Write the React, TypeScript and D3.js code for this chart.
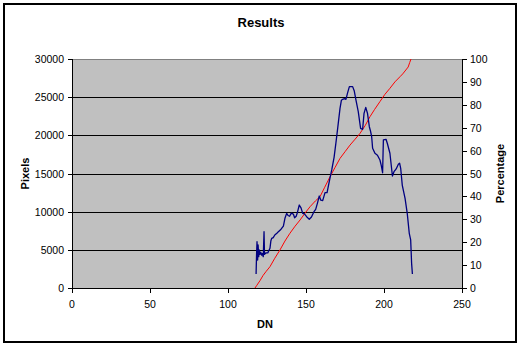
import React from "react";
import * as d3 from "d3";

const titleText = "Results";
const xLabel = "DN";
const yLeftLabel = "Pixels";
const yRightLabel = "Percentage";
const xTicks = [0, 50, 100, 150, 200, 250];
const yLeftTicks = [0, 5000, 10000, 15000, 20000, 25000, 30000];
const yRightTicks = [0, 10, 20, 30, 40, 50, 60, 70, 80, 90, 100];

// Pixel counts per DN (blue)
const pixelDN = [118, 118.3, 118.6, 119, 119.3, 119.7, 120, 120.5, 121, 121.5, 122, 122.6, 123.1, 123.4, 123.8, 124.5, 125.5, 126.9, 127.5, 128, 129, 130, 131.5, 132.3, 134, 135.5, 136.5, 137.6, 138.5, 139.5, 140.5, 141.9, 142.7, 143.7, 144.5, 145.7, 146.8, 147.9, 149, 150.4, 152.1, 153.5, 155.1, 156.2, 157.3, 158.5, 159.5, 160.7, 162.2, 163.5, 164.9, 166.5, 168, 169.2, 170.3, 171.8, 172.7, 173.5, 174.6, 175.6, 176.7, 177.8, 179.9, 180.9, 182, 183.5, 185, 186.3, 187.2, 188.3, 189.4, 190.6, 191.3, 192.1, 192.7, 194.2, 195.8, 197.4, 198.3, 199.1, 199.6, 201.3, 202.2, 203.8, 205.4, 206.4, 207.8, 209.2, 210, 210.7, 211.7, 213.5, 214.9, 216.2, 217.1, 217.7, 218.2];
const pixelCount = [1830, 4320, 6070, 3670, 5630, 4100, 4980, 4400, 4700, 4300, 4500, 4100, 7380, 4400, 4500, 4600, 4600, 5200, 6200, 6500, 6600, 6940, 7200, 7380, 7700, 8120, 9130, 9780, 9500, 9400, 9800, 9690, 9200, 9400, 9900, 10870, 10500, 9780, 9700, 9340, 9000, 9300, 10000, 10300, 11090, 12050, 11500, 11440, 12490, 12500, 13930, 15460, 17120, 19040, 20920, 23540, 24600, 24720, 24800, 24720, 25590, 26380, 26380, 25850, 24630, 23100, 20920, 20790, 22880, 23670, 22900, 21130, 20600, 19820, 18300, 17650, 17400, 16770, 16000, 15100, 19390, 19480, 18900, 17650, 14670, 15240, 15600, 16200, 16350, 15680, 13490, 11750, 9780, 7160, 6290, 3230, 1830];

// Cumulative percentage (red)
const pctDN = [117.3, 118.5, 120.5, 122.5, 124.5, 126.9, 130, 133.3, 136.5, 139.7, 143, 146.2, 149.5, 152.6, 156, 159, 162, 165.4, 168.5, 171.8, 175, 178.2, 181.5, 184.6, 188, 191, 194, 197.4, 200.5, 203.8, 207, 210.3, 212, 214, 215.5, 216.5, 217.3];
const pctValue = [0, 1.2, 3.2, 5.5, 7.3, 9.3, 13, 16.6, 20.5, 23.9, 27, 29.7, 32.8, 35.5, 38, 39.9, 44, 48.6, 52.5, 56.6, 59.5, 62.4, 65, 67.5, 71, 74.8, 78, 81.4, 84.5, 87.2, 90, 92.3, 93.5, 95.2, 96.5, 98.5, 100];

const W = 522;
const H = 345;
const m = { left: 72, right: 462, top: 59, bottom: 288 };
const font = "Arial, 'Liberation Sans', sans-serif";

export default function App() {
  const x = d3.scaleLinear().domain([0, 250]).range([m.left, m.right]);
  const yL = d3.scaleLinear().domain([0, 30000]).range([m.bottom, m.top]);
  const yR = d3.scaleLinear().domain([0, 100]).range([m.bottom, m.top]);

  const blueLine = d3
    .line<number>()
    .x((_, i) => x(pixelDN[i]))
    .y((d) => yL(d))(pixelCount);
  const redLine = d3
    .line<number>()
    .x((_, i) => x(pctDN[i]))
    .y((d) => yR(d))(pctValue);

  return (
    <svg
      width={W}
      height={H}
      style={{ position: "absolute", left: 0, top: 0, display: "block" }}
      fontFamily={font}
    >
      <rect x={0} y={0} width={W} height={H} fill="#fff" />
      <rect x={4} y={4} width={512} height={338} fill="#fff" stroke="#000" strokeWidth={2} />
      <text x={261} y={27} textAnchor="middle" fontSize={13} fontWeight="bold">
        {titleText}
      </text>
      <rect x={m.left} y={m.top} width={m.right - m.left} height={m.bottom - m.top} fill="#C0C0C0" />
      <line x1={m.left} x2={m.right} y1={m.top + 0.5} y2={m.top + 0.5} stroke="#808080" />
      {yLeftTicks
        .filter((t) => t > 0 && t < 30000)
        .map((t) => (
          <line key={t} x1={m.left} x2={m.right} y1={Math.round(yL(t)) + 0.5} y2={Math.round(yL(t)) + 0.5} stroke="#000" />
        ))}
      <path d={redLine ?? ""} fill="none" stroke="#FF0000" strokeWidth={1} />
      <path d={blueLine ?? ""} fill="none" stroke="#000080" strokeWidth={1.3} strokeLinejoin="round" />
      {/* axes */}
      <line x1={m.left + 0.5} x2={m.left + 0.5} y1={m.top} y2={m.bottom + 1} stroke="#000" />
      <line x1={m.right + 0.5} x2={m.right + 0.5} y1={m.top} y2={m.bottom + 1} stroke="#000" />
      <line x1={m.left} x2={m.right + 1} y1={m.bottom + 0.5} y2={m.bottom + 0.5} stroke="#000" />
      {yLeftTicks.map((t) => (
        <g key={"l" + t}>
          <line x1={m.left - 4} x2={m.left} y1={Math.round(yL(t)) + 0.5} y2={Math.round(yL(t)) + 0.5} stroke="#000" />
          <text x={m.left - 8} y={yL(t) + 4} textAnchor="end" fontSize={10.5}>
            {t}
          </text>
        </g>
      ))}
      {yRightTicks.map((t) => (
        <g key={"r" + t}>
          <line x1={m.right} x2={m.right + 5} y1={Math.round(yR(t)) + 0.5} y2={Math.round(yR(t)) + 0.5} stroke="#000" />
          <text x={m.right + 8} y={yR(t) + 4} textAnchor="start" fontSize={10.5}>
            {t}
          </text>
        </g>
      ))}
      {xTicks.map((t) => (
        <g key={"x" + t}>
          <line x1={Math.round(x(t)) + 0.5} x2={Math.round(x(t)) + 0.5} y1={m.bottom} y2={m.bottom + 5} stroke="#000" />
          <text x={x(t)} y={308} textAnchor="middle" fontSize={10.5}>
            {t}
          </text>
        </g>
      ))}
      <text x={265} y={328} textAnchor="middle" fontSize={11} fontWeight="bold">
        {xLabel}
      </text>
      <text transform={`translate(29,${(m.top + m.bottom) / 2}) rotate(-90)`} textAnchor="middle" fontSize={11} fontWeight="bold">
        {yLeftLabel}
      </text>
      <text transform={`translate(504,${(m.top + m.bottom) / 2}) rotate(-90)`} textAnchor="middle" fontSize={11} fontWeight="bold">
        {yRightLabel}
      </text>
    </svg>
  );
}
